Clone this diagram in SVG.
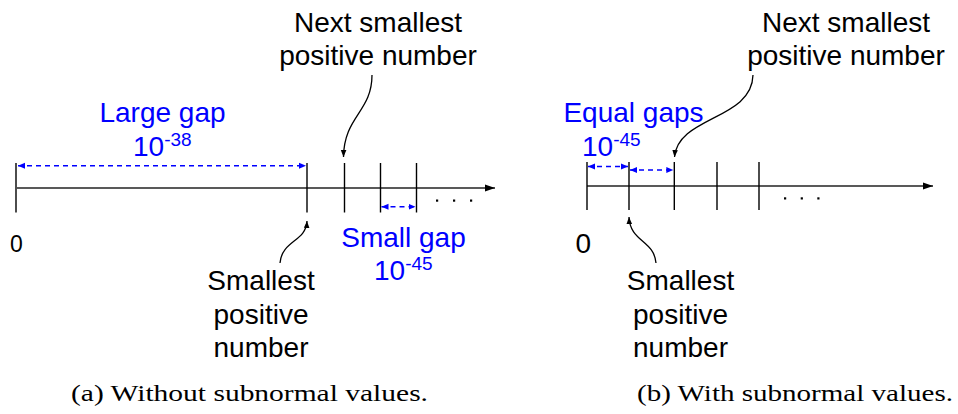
<svg xmlns="http://www.w3.org/2000/svg" width="958" height="414" viewBox="0 0 958 414">
<style>
.t{font-family:"Liberation Sans",Arial,sans-serif;font-size:28px;fill:#000}
.b{fill:#0000ff}
.cap{font-family:"Liberation Serif","Times New Roman",serif;font-size:23px;fill:#000}
.ax{stroke:#222;stroke-width:1.4;fill:none}
.tk{stroke:#000;stroke-width:1.4;fill:none}
.gap{stroke:#0000ff;stroke-width:1.4;stroke-dasharray:5,4;fill:none}
.ptr{stroke:#000;stroke-width:1.3;fill:none}
</style>
<defs>
<marker id="ax" markerUnits="userSpaceOnUse" markerWidth="12" markerHeight="10" refX="10" refY="5" orient="auto"><path d="M0,1.5 L10,5 L0,8.5 Z" fill="#000"/></marker>
<marker id="bl" markerUnits="userSpaceOnUse" markerWidth="10" markerHeight="8" refX="7" refY="4" orient="auto-start-reverse"><path d="M0,1 L7,4 L0,7 Z" fill="#0000ff"/></marker>
<marker id="pk" markerUnits="userSpaceOnUse" markerWidth="10" markerHeight="8" refX="7" refY="4" orient="auto"><path d="M0,1.2 L7,4 L0,6.8 Z" fill="#000"/></marker>
</defs>

<g id="connectors">
  <!-- left axis -->
  <line class="ax" x1="17" y1="188" x2="495" y2="188" marker-end="url(#ax)"/>
  <line class="tk" x1="16" y1="163" x2="16" y2="212.5"/>
  <line class="tk" x1="307" y1="163" x2="307" y2="212.5"/>
  <line class="tk" x1="344.5" y1="163" x2="344.5" y2="212.5"/>
  <line class="tk" x1="380.5" y1="163" x2="380.5" y2="212.5"/>
  <line class="tk" x1="416.5" y1="163" x2="416.5" y2="212.5"/>
  <line class="gap" x1="18" y1="165.7" x2="306" y2="165.7" marker-start="url(#bl)" marker-end="url(#bl)"/>
  <line class="gap" x1="381.5" y1="206.7" x2="415.5" y2="206.7" marker-start="url(#bl)" marker-end="url(#bl)"/>
  <path class="ptr" d="M372,75 C372,112 344,116 343.5,157" marker-end="url(#pk)"/>
  <path class="ptr" d="M280,263 C282,240 306,242 307,221" marker-end="url(#pk)"/>

  <!-- right axis -->
  <line class="ax" x1="587" y1="186" x2="933" y2="186" marker-end="url(#ax)"/>
  <line class="tk" x1="587" y1="162" x2="587" y2="210"/>
  <line class="tk" x1="629" y1="162" x2="629" y2="210"/>
  <line class="tk" x1="674.3" y1="162" x2="674.3" y2="210"/>
  <line class="tk" x1="717" y1="162" x2="717" y2="210"/>
  <line class="tk" x1="759" y1="162" x2="759" y2="210"/>
  <line class="gap" x1="588" y1="166.5" x2="628" y2="166.5" marker-start="url(#bl)" marker-end="url(#bl)"/>
  <line class="gap" x1="630" y1="170" x2="673.3" y2="170" marker-start="url(#bl)" marker-end="url(#bl)"/>
  <path class="ptr" d="M753,75 C752,120 678,116 674.5,157" marker-end="url(#pk)"/>
  <path class="ptr" d="M656,263 C654,240 630,242 629,217" marker-end="url(#pk)"/>
</g>

<g id="dots-left" fill="#000">
  <rect x="436" y="199.5" width="2.2" height="2.2"/>
  <rect x="453" y="199.5" width="2.2" height="2.2"/>
  <rect x="470" y="199.5" width="2.2" height="2.2"/>
</g>
<g id="dots-right" fill="#000">
  <rect x="784" y="197.3" width="2.2" height="2.2"/>
  <rect x="800.7" y="197.3" width="2.2" height="2.2"/>
  <rect x="817.3" y="197.3" width="2.2" height="2.2"/>
</g>

<g id="left-zero"><text class="t" x="10" y="251.5" style="font-size:23px">0</text></g>
<g id="left-large-gap">
  <text class="t b" x="162.5" y="122" text-anchor="middle">Large gap</text>
  <text class="t b" x="133" y="156">10<tspan dy="-10" style="font-size:19px">-38</tspan></text>
</g>
<g id="left-next">
  <text class="t" x="378" y="31.5" text-anchor="middle">Next smallest</text>
  <text class="t" x="378" y="64.5" text-anchor="middle">positive number</text>
</g>
<g id="left-smallest">
  <text class="t" x="261" y="290" text-anchor="middle">Smallest</text>
  <text class="t" x="261" y="323.5" text-anchor="middle">positive</text>
  <text class="t" x="261" y="357" text-anchor="middle">number</text>
</g>
<g id="left-small-gap">
  <text class="t b" x="403.5" y="247" text-anchor="middle">Small gap</text>
  <text class="t b" x="374" y="280">10<tspan dy="-10" style="font-size:19px">-45</tspan></text>
</g>
<g id="caption-a"><text class="cap" x="71" y="401" textLength="357" lengthAdjust="spacingAndGlyphs">(a) Without subnormal values.</text></g>

<g id="right-zero"><text class="t" x="575.5" y="253.3">0</text></g>
<g id="right-equal-gaps">
  <text class="t b" x="633.5" y="121.7" text-anchor="middle">Equal gaps</text>
  <text class="t b" x="582" y="156">10<tspan dy="-10" style="font-size:19px">-45</tspan></text>
</g>
<g id="right-next">
  <text class="t" x="846" y="31.5" text-anchor="middle">Next smallest</text>
  <text class="t" x="846" y="64.5" text-anchor="middle">positive number</text>
</g>
<g id="right-smallest">
  <text class="t" x="680.5" y="290" text-anchor="middle">Smallest</text>
  <text class="t" x="680.5" y="323.5" text-anchor="middle">positive</text>
  <text class="t" x="680.5" y="357" text-anchor="middle">number</text>
</g>
<g id="caption-b"><text class="cap" x="637" y="401" textLength="316" lengthAdjust="spacingAndGlyphs">(b) With subnormal values.</text></g>
</svg>
